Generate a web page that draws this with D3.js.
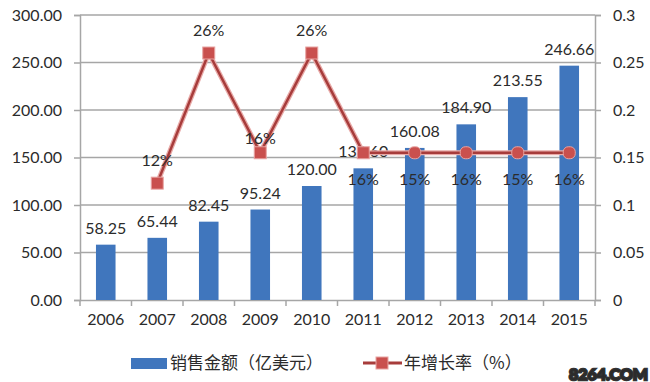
<!DOCTYPE html>
<html>
<head>
<meta charset="utf-8">
<title>销售金额与年增长率</title>
<style>
  body { margin: 0; background: #fff; }
  svg { display: block; }
  text { font-family: Lato, "Noto Sans CJK SC", sans-serif; fill: #2b2b2b; }
  .grid line { stroke: #a6a6a6; stroke-width: 1.5px; }
</style>
</head>
<body>
<div id="chart"></div>
<script src="https://d3js.org/d3.v7.min.js"></script>
<script>
// data
var years = ["2006", "2007", "2008", "2009", "2010", "2011", "2012", "2013", "2014", "2015"];
var sales = [58.25, 65.44, 82.45, 95.24, 120.00, 138.60, 160.08, 184.90, 213.55, 246.66];
var growth = [null, 0.123, 0.26, 0.155, 0.26, 0.155, 0.155, 0.155, 0.155, 0.155];
var growthLabels = [null, "12%", "26%", "16%", "26%", "16%", "15%", "16%", "15%", "16%"];
var leftTicks = [0, 50, 100, 150, 200, 250, 300];
var rightTicks = [0, 0.05, 0.1, 0.15, 0.2, 0.25, 0.3];

var W = 650, H = 382;
var margin = {top: 15, right: 55, bottom: 82, left: 80};
var width = W - margin.left - margin.right,
    height = H - margin.top - margin.bottom;

var svg = d3.select("#chart").append("svg")
    .attr("width", W).attr("height", H);
var g = svg.append("g")
    .attr("transform", "translate(" + margin.left + "," + margin.top + ")");

var x = d3.scaleBand().domain(years).range([0, width]).paddingInner(0.62).paddingOuter(0.31);
var xb = d3.scaleBand().domain(years).range([0, width]);
var y = d3.scaleLinear().domain([0, 300]).range([height, 0]);
var y2 = d3.scaleLinear().domain([0, 0.3]).range([height, 0]);

// gridlines
g.append("g").attr("class", "grid")
  .selectAll("line").data(leftTicks.slice(1)).join("line")
    .attr("x1", 0).attr("x2", width)
    .attr("y1", d => y(d)).attr("y2", d => y(d));

// left axis
var la = g.append("g").call(d3.axisLeft(y).tickValues(leftTicks).tickFormat(d3.format(".2f")).tickSize(6).tickPadding(12));
la.selectAll("text").style("font-size", "16px").attr("fill", "#2b2b2b");

// right axis
var ra = g.append("g").attr("transform", "translate(" + width + ",0)")
  .call(d3.axisRight(y2).tickValues(rightTicks).tickFormat(d => d3.format("")(+d.toFixed(2))).tickSize(6).tickPadding(12));
ra.selectAll("text").style("font-size", "16px").attr("fill", "#2b2b2b");

// bottom axis with ticks at band edges
var xa = g.append("g").attr("transform", "translate(0," + height + ")")
  .call(d3.axisBottom(xb).tickSize(0).tickPadding(14));
xa.selectAll("text").style("font-size", "16px").attr("fill", "#2b2b2b");
xa.selectAll(".edge").data(years.concat(["end"])).join("line")
  .attr("class", "edge")
  .attr("x1", (d, i) => i * xb.step()).attr("x2", (d, i) => i * xb.step())
  .attr("y1", 0).attr("y2", 6);
[la, ra, xa].forEach(function(a) {
  a.selectAll("path, line").attr("stroke", "#a6a6a6").attr("stroke-width", 1.5);
});

// bars
g.selectAll(".bar").data(sales).join("rect")
  .attr("class", "bar")
  .attr("x", (d, i) => x(years[i]))
  .attr("width", x.bandwidth())
  .attr("y", d => y(d))
  .attr("height", d => height - y(d))
  .attr("fill", "#4076bd");

g.selectAll(".barlab").data(sales).join("text")
  .attr("class", "barlab")
  .attr("x", (d, i) => xb(years[i]) + xb.bandwidth() / 2)
  .attr("y", d => y(d) - 11)
  .attr("text-anchor", "middle")
  .style("font-size", "16px")
  .text(d => d.toFixed(2));

// growth line
var pts = growth.map((d, i) => ({year: years[i], v: d, lab: growthLabels[i], i: i})).filter(d => d.v != null);
var line = d3.line()
  .x(d => xb(d.year) + xb.bandwidth() / 2)
  .y(d => y2(d.v));

g.append("path").datum(pts)
  .attr("d", line).attr("fill", "none")
  .attr("stroke", "#e8aaa8").attr("stroke-width", 5).attr("stroke-linejoin", "miter");
g.append("path").datum(pts)
  .attr("d", line).attr("fill", "none")
  .attr("stroke", "#a73c3b").attr("stroke-width", 2.5).attr("stroke-linejoin", "miter");

g.selectAll(".mk").data(pts).join("rect")
  .attr("class", "mk")
  .attr("x", d => xb(d.year) + xb.bandwidth() / 2 - 6)
  .attr("y", d => y2(d.v) - 6)
  .attr("width", 12).attr("height", 12)
  .attr("rx", d => d.i > 5 ? 5 : 0)
  .attr("fill", "#c9504e").attr("stroke", "#e8a4a2").attr("stroke-width", 1);

g.selectAll(".glab").data(pts).join("text")
  .attr("class", "glab")
  .attr("x", d => xb(d.year) + xb.bandwidth() / 2)
  .attr("y", d => d.i >= 5 ? y2(d.v) + 32 : y2(d.v) - (d.i === 3 ? 9 : 17))
  .attr("text-anchor", "middle")
  .style("font-size", "16px")
  .attr("fill", d => d.i >= 5 ? "#1f3864" : "#2b2b2b")
  .text(d => d.lab);

// legend
var lg = svg.append("g");
lg.append("rect").attr("x", 131).attr("y", 358).attr("width", 36).attr("height", 11).attr("fill", "#4076bd");
lg.append("text").attr("x", 170).attr("y", 369).style("font-size", "17px")
  .style("font-family", "'Noto Sans CJK SC', sans-serif").text("销售金额（亿美元）");
lg.append("line").attr("x1", 363).attr("x2", 402).attr("y1", 363).attr("y2", 363)
  .attr("stroke", "#a73c3b").attr("stroke-width", 3);
lg.append("rect").attr("x", 376).attr("y", 357).attr("width", 12).attr("height", 12)
  .attr("fill", "#c9504e").attr("stroke", "#e8a4a2");
lg.append("text").attr("x", 404).attr("y", 369).style("font-size", "17px")
  .style("font-family", "'Noto Sans CJK SC', sans-serif").text("年增长率（%）");

// watermark
svg.append("text").attr("x", 648).attr("y", 380).attr("text-anchor", "end")
  .style("font-size", "16px").style("font-weight", "bold")
  .style("paint-order", "stroke")
  .attr("fill", "#fff").attr("stroke", "#333").attr("stroke-width", 2.5)
  .text("8264.COM");
</script>
</body>
</html>
